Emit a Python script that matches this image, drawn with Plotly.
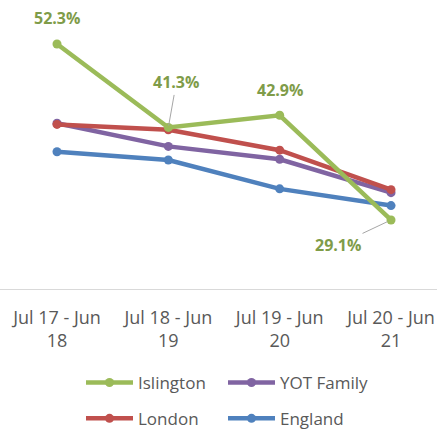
import plotly.graph_objects as go

periods = ["Jul 17 - Jun<br>18", "Jul 18 - Jun<br>19", "Jul 19 - Jun<br>20", "Jul 20 - Jun<br>21"]
islington = [52.3, 41.3, 42.9, 29.1]
yot_family = [41.85, 38.8, 37.1, 32.7]
london = [41.7, 41.0, 38.3, 33.1]
england = [38.1, 37.0, 33.2, 31.0]

colors = {
    "Islington": "#9bbb59",
    "YOT Family": "#8064a2",
    "London": "#c0504d",
    "England": "#4f81bd",
}

xs = list(range(len(periods)))
font_family = "'Open Sans', sans-serif"
text_grey = "#595959"

fig = go.Figure()

def add_series(name, values, legend):
    fig.add_trace(go.Scatter(
        x=xs, y=values, name=name, mode="lines+markers",
        line=dict(color=colors[name], width=4.5),
        marker=dict(color=colors[name], size=9),
        legend=legend, hoverinfo="skip",
    ))

# England first so the other lines sit above it; each series gets its own
# legend box so the 2x2 legend grid can be placed exactly
add_series("England", england, "legend4")
add_series("YOT Family", yot_family, "legend2")
add_series("London", london, "legend3")
add_series("Islington", islington, "legend")

label_color = "#7f9c49"
label_font = dict(family=font_family, size=16, color=label_color)

# Islington data labels
fig.add_annotation(x=0, y=islington[0], text="<b>52.3%</b>", showarrow=False,
                   yshift=26, font=label_font)
fig.add_annotation(x=1, y=islington[1], text="<b>41.3%</b>", showarrow=True,
                   arrowhead=0, arrowwidth=1, arrowcolor="#a6a6a6",
                   ax=8, ay=-45, font=label_font, standoff=2)
fig.add_annotation(x=2, y=islington[2], text="<b>42.9%</b>", showarrow=False,
                   yshift=25, font=label_font)
fig.add_annotation(x=3, y=islington[3], text="<b>29.1%</b>", showarrow=True,
                   arrowhead=0, arrowwidth=1, arrowcolor="#a6a6a6",
                   ax=-53, ay=25, font=label_font, standoff=4)

legend_style = dict(
    orientation="h", xanchor="left", yanchor="middle", itemwidth=47,
    font=dict(family=font_family, size=17, color=text_grey),
    bgcolor="rgba(0,0,0,0)",
)
col1, col2 = 81 / 437, 223 / 437
row1, row2 = -0.325, -0.449

fig.update_layout(
    width=437, height=430,
    margin=dict(l=0, r=0, t=0, b=141, autoexpand=False),
    paper_bgcolor="white", plot_bgcolor="white",
    font=dict(family=font_family, color=text_grey),
    xaxis=dict(
        range=[-0.512, 3.413], tickvals=xs, ticktext=periods,
        showgrid=False, zeroline=False, showline=True, automargin=False,
        linecolor="#d9d9d9", linewidth=1,
        tickfont=dict(family=font_family, size=18, color=text_grey),
        ticklabelstandoff=12,
    ),
    yaxis=dict(range=[20, 58.1], showgrid=False, zeroline=False,
               showticklabels=False, showline=False, automargin=False),
    legend=dict(legend_style, x=col1, y=row1),
    legend2=dict(legend_style, x=col2, y=row1),
    legend3=dict(legend_style, x=col1, y=row2),
    legend4=dict(legend_style, x=col2, y=row2),
    showlegend=True,
)

fig.write_html("out.html")
